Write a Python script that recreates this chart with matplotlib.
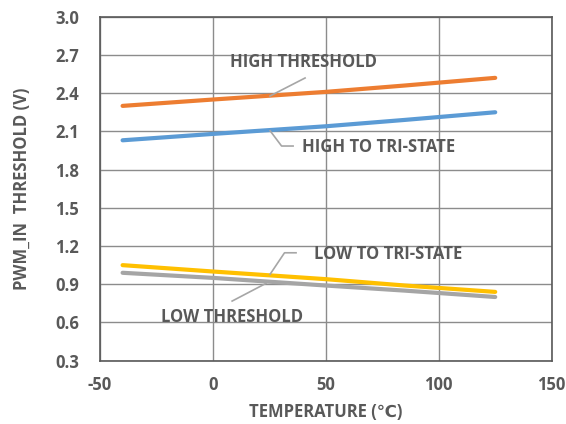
import matplotlib
matplotlib.use('Agg')
import matplotlib.pyplot as plt

# temperature sweep (degC) and threshold voltages (V)
temps = [-40, 0, 25, 50, 85, 125]
high_threshold = [2.30, 2.35, 2.38, 2.41, 2.46, 2.52]
high_to_tristate = [2.03, 2.08, 2.11, 2.14, 2.19, 2.25]
low_to_tristate = [1.05, 1.00, 0.97, 0.94, 0.89, 0.84]
low_threshold = [0.99, 0.95, 0.92, 0.89, 0.85, 0.80]

x_ticks = [-50, 0, 50, 100, 150]
y_ticks = [0.3, 0.6, 0.9, 1.2, 1.5, 1.8, 2.1, 2.4, 2.7, 3.0]

TXT = '#595959'
FS = 12
plt.rcParams['font.family'] = ['Open Sans', 'DejaVu Sans']
plt.rcParams['axes.unicode_minus'] = False

fig = plt.figure(figsize=(5.66, 4.24), dpi=100)
ax = fig.add_axes([0.1767, 0.1493, 0.798, 0.8113])

ax.plot(temps, high_threshold, color='#ED7D31', lw=3, solid_capstyle='round', zorder=3)
ax.plot(temps, high_to_tristate, color='#5B9BD5', lw=3, solid_capstyle='round', zorder=3)
ax.plot(temps, low_threshold, color='#A5A5A5', lw=3, solid_capstyle='round', zorder=3)
ax.plot(temps, low_to_tristate, color='#FFC000', lw=3, solid_capstyle='round', zorder=3)

ax.set_xlim(-50, 150)
ax.set_ylim(0.3, 3.0)
ax.set_xticks(x_ticks)
ax.set_yticks(y_ticks)
ax.set_yticklabels([f'{v:.1f}' for v in y_ticks])
ax.grid(True, color='#8c8c8c', lw=1.0)
ax.set_axisbelow(True)
for s in ax.spines.values():
    s.set_color('#595959')
    s.set_linewidth(1.2)
ax.tick_params(axis='y', length=0, pad=15, labelsize=FS, labelcolor=TXT)
ax.tick_params(axis='x', length=0, pad=11, labelsize=FS, labelcolor=TXT)
for lbl in ax.get_xticklabels() + ax.get_yticklabels():
    lbl.set_fontweight('bold')

ax.set_xlabel('TEMPERATURE (℃)', fontsize=FS, fontweight='bold', color=TXT, va='center')
ax.xaxis.set_label_coords(0.5, -0.148)
ax.set_ylabel('PWM_IN  THRESHOLD (V)', fontsize=FS, fontweight='bold', color=TXT, va='center')
ax.yaxis.set_label_coords(-0.172, 0.5)

lead = dict(color='#A6A6A6', lw=1.2, zorder=4)
txt = dict(fontsize=FS, fontweight='bold', color=TXT, va='center')

ax.text(40.3, 2.644, 'HIGH THRESHOLD', ha='center', **txt)
ax.plot([25.3, 40.8], [2.378, 2.519], **lead)

ax.text(39.4, 1.977, 'HIGH TO TRI-STATE', ha='left', **txt)
ax.plot([25.3, 30.4, 35.5], [2.105, 1.985, 1.985], **lead)

ax.text(44.9, 1.137, 'LOW TO TRI-STATE', ha='left', **txt)
ax.plot([25.3, 31.7, 36.8], [0.978, 1.147, 1.147], **lead)

ax.text(8.3, 0.645, 'LOW THRESHOLD', ha='center', **txt)
ax.plot([8.5, 23.5], [0.768, 0.907], **lead)

fig.savefig('out.png', dpi=100)
